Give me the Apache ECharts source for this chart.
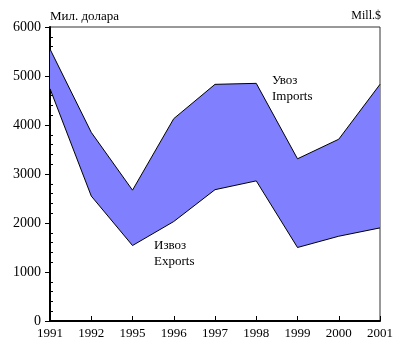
<!DOCTYPE html>
<html>
<head>
<meta charset="utf-8">
<script src="https://cdn.jsdelivr.net/npm/echarts@6/dist/echarts.min.js"></script>
<style>html,body{margin:0;padding:0;background:#fff}#c{width:396px;height:340px}</style>
</head>
<body>
<div id="c"></div>
<script>
var years = ['1991','1992','1995','1996','1997','1998','1999','2000','2001'];
var imports = [5550, 3850, 2670, 4130, 4830, 4850, 3310, 3710, 4830];
var exports = [4740, 2550, 1540, 2030, 2680, 2860, 1500, 1730, 1900];
var yTicks = [0, 1000, 2000, 3000, 4000, 5000, 6000];

var diff = imports.map(function (v, i) { return v - exports[i]; });
var font = 'Liberation Serif';
var chart = echarts.init(document.getElementById('c'), null, {renderer: 'canvas'});
chart.setOption({
  animation: false,
  grid: {left: 50, right: 14, top: 27, bottom: 18, show: true, borderColor: '#333', borderWidth: 1, backgroundColor: 'transparent'},
  xAxis: {
    type: 'category', data: years, boundaryGap: false,
    axisLine: {lineStyle: {color: '#000', width: 2}},
    axisTick: {inside: true, length: 5, lineStyle: {color: '#000'}},
    axisLabel: {color: '#000', fontFamily: font, fontSize: 13, margin: 6, interval: 0}
  },
  yAxis: [{
    type: 'value', min: yTicks[0], max: yTicks[yTicks.length - 1], interval: 1000,
    splitLine: {show: false},
    axisLine: {show: true, lineStyle: {color: '#000', width: 2}},
    axisTick: {show: true, length: 5, lineStyle: {color: '#000'}},
    axisLabel: {color: '#000', fontFamily: font, fontSize: 14, margin: 9,
      formatter: function (v) { return String(v); }}
  }, {
    type: 'value', position: 'left', min: yTicks[0], max: yTicks[yTicks.length - 1], interval: 1000,
    splitLine: {show: false},
    axisLine: {show: false},
    axisTick: {show: false, inside: true},
    axisLabel: {show: false},
    minorTick: {show: true, splitNumber: 5, length: 3, lineStyle: {color: '#000'}}
  }],
  series: [{
    type: 'line', data: exports, stack: 'a', symbol: 'none',
    lineStyle: {color: '#000', width: 1}, z: 3
  }, {
    type: 'line', data: diff, stack: 'a', symbol: 'none',
    lineStyle: {color: '#000', width: 1},
    areaStyle: {color: '#8080ff', opacity: 1}, z: 2
  }],
  graphic: [
    {type: 'text', left: 50, top: 10, style: {text: 'Мил. долара', font: '13px "Liberation Serif"', fill: '#000'}},
    {type: 'text', right: 15, top: 10, style: {text: 'Mill.$', font: '12px "Liberation Serif"', fill: '#000'}},
    {type: 'text', left: 272, top: 73, style: {text: 'Увоз\nImports', font: '13px "Liberation Serif"', fill: '#000', lineHeight: 16}},
    {type: 'text', left: 154, top: 238, style: {text: 'Извоз\nExports', font: '13px "Liberation Serif"', fill: '#000', lineHeight: 16}}
  ]
});
</script>
</body>
</html>
